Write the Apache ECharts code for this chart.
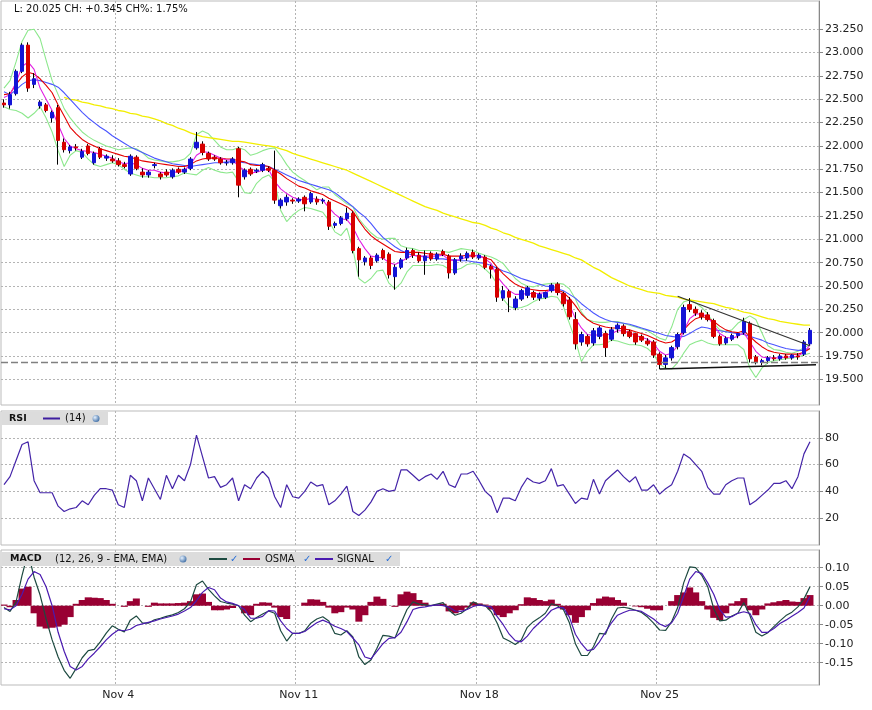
<!DOCTYPE html>
<html><head><meta charset="utf-8">
<script src="https://cdn.jsdelivr.net/npm/echarts@6/dist/echarts.min.js"></script>
<style>html,body{margin:0;padding:0;background:#fff}#c{width:872px;height:710px}</style>
</head><body><div id="c"></div>
<script>
// ---- price candles (open / high / low / close) ----
const opens = [22.46,22.44,22.56,22.80,23.08,22.66,22.43,22.44,22.30,22.41,
22.04,21.95,21.99,21.88,22.00,21.82,21.97,21.87,21.86,21.84,
21.80,21.70,21.88,21.72,21.69,21.79,21.70,21.72,21.67,21.75,
21.72,21.76,21.98,22.02,21.92,21.88,21.86,21.82,21.82,21.97,
21.67,21.75,21.73,21.74,21.76,21.74,21.36,21.40,21.42,21.41,
21.45,21.40,21.43,21.41,21.40,21.15,21.17,21.22,21.28,20.90,
20.76,20.80,20.77,20.88,20.84,20.60,20.70,20.80,20.88,20.83,
20.77,20.85,20.79,20.87,20.82,20.64,20.79,20.80,20.86,20.80,
20.81,20.71,20.68,20.37,20.44,20.27,20.36,20.40,20.43,20.37,
20.38,20.45,20.52,20.42,20.35,20.14,19.90,19.96,19.89,19.96,
19.99,19.93,20.04,20.07,20.01,19.99,19.96,19.91,19.90,19.77,
19.66,19.73,19.85,20.00,20.30,20.25,20.21,20.19,20.13,19.96,
19.89,19.93,19.97,20.00,20.10,19.74,19.68,19.70,19.73,19.72,
19.75,19.73,19.75,19.77,19.88];
const highs = [22.50,22.58,22.82,23.10,23.11,22.78,22.49,22.46,22.38,22.44,
22.08,22.01,22.02,21.97,22.02,21.94,21.99,21.91,21.90,21.87,
21.83,21.91,21.90,21.76,21.74,21.82,21.72,21.75,21.76,21.77,
21.77,21.88,22.15,22.05,21.94,21.90,21.88,21.85,21.88,21.99,
21.76,21.77,21.76,21.82,21.78,21.95,21.44,21.48,21.44,21.45,
21.47,21.51,21.46,21.44,21.42,21.19,21.25,21.34,21.30,20.92,
20.82,20.82,20.85,20.90,20.86,20.73,20.80,20.91,20.90,20.86,
20.88,20.87,20.86,20.89,20.84,20.80,20.85,20.87,20.89,20.85,
20.83,20.73,20.70,20.50,20.46,20.39,20.47,20.50,20.45,20.43,
20.44,20.53,20.54,20.44,20.38,20.22,20.01,19.98,20.05,20.07,
20.02,20.06,20.10,20.09,20.03,20.00,19.98,19.94,19.92,19.79,
19.76,19.86,20.00,20.30,20.37,20.28,20.24,20.22,20.15,19.98,
19.96,19.99,20.00,20.16,20.12,19.76,19.72,19.75,19.76,19.77,
19.77,19.77,19.78,19.92,20.05];
const lows = [22.41,22.40,22.54,22.78,22.58,22.62,22.40,22.36,22.25,21.80,
21.93,21.92,21.95,21.86,21.90,21.80,21.86,21.84,21.82,21.78,
21.76,21.68,21.74,21.66,21.66,21.76,21.64,21.67,21.65,21.70,
21.70,21.74,21.96,21.90,21.84,21.84,21.80,21.79,21.80,21.45,
21.64,21.68,21.71,21.72,21.72,21.38,21.33,21.36,21.38,21.39,
21.30,21.38,21.37,21.38,21.10,21.12,21.15,21.20,20.85,20.60,
20.72,20.68,20.75,20.78,20.58,20.46,20.68,20.78,20.80,20.75,
20.62,20.77,20.77,20.82,20.58,20.62,20.76,20.77,20.79,20.78,
20.68,20.58,20.33,20.34,20.22,20.24,20.34,20.37,20.35,20.34,
20.36,20.43,20.40,20.28,20.14,19.82,19.86,19.85,19.86,19.93,
19.74,19.91,20.00,19.96,19.94,19.87,19.90,19.86,19.73,19.61,
19.62,19.70,19.82,19.98,20.22,20.18,20.14,20.12,19.94,19.86,
19.87,19.91,19.94,19.98,19.68,19.66,19.65,19.67,19.70,19.70,
19.71,19.71,19.71,19.75,19.86];
const closes = [22.44,22.55,22.80,23.08,22.62,22.72,22.47,22.38,22.36,22.06,
21.96,21.99,21.98,21.94,21.92,21.92,21.88,21.89,21.84,21.80,
21.78,21.89,21.76,21.69,21.72,21.80,21.67,21.69,21.74,21.72,
21.75,21.86,22.04,21.93,21.86,21.86,21.82,21.82,21.86,21.58,
21.74,21.70,21.74,21.80,21.74,21.42,21.42,21.45,21.41,21.43,
21.38,21.49,21.40,21.42,21.14,21.17,21.23,21.28,20.88,20.78,
20.80,20.72,20.83,20.80,20.62,20.70,20.78,20.88,20.83,20.77,
20.82,20.79,20.84,20.84,20.64,20.78,20.82,20.85,20.81,20.83,
20.70,20.68,20.38,20.45,20.38,20.36,20.45,20.48,20.38,20.41,
20.43,20.51,20.43,20.31,20.17,19.88,19.98,19.88,20.02,20.05,
19.84,20.03,20.08,19.99,19.96,19.90,19.92,19.88,19.76,19.66,
19.73,19.84,19.98,20.27,20.25,20.21,20.17,20.14,19.96,19.88,
19.94,19.97,19.99,20.12,19.72,19.68,19.70,19.73,19.72,19.75,
19.73,19.76,19.74,19.90,20.025];
const prevClose = 19.68;

// ---- overlay lines on the price panel ----
const bandUpper = [22.62,22.70,22.90,23.12,23.24,23.25,23.15,22.92,22.70,22.55,
22.40,22.30,22.22,22.15,22.10,22.06,22.03,22.00,21.98,21.96,
21.97,21.98,21.97,21.93,21.87,21.85,21.84,21.83,21.83,21.84,
21.86,21.92,22.12,22.16,22.13,22.06,21.99,21.96,21.96,21.98,
21.96,21.90,21.92,21.95,21.97,21.98,21.90,21.80,21.72,21.67,
21.63,21.58,21.53,21.56,21.56,21.48,21.43,21.38,21.35,21.22,
21.14,21.07,21.02,21.00,21.01,21.01,20.93,20.91,20.90,20.88,
20.88,20.88,20.88,20.87,20.86,20.88,20.90,20.89,20.88,20.85,
20.83,20.81,20.78,20.74,20.66,20.58,20.53,20.50,20.49,20.51,
20.52,20.53,20.53,20.52,20.47,20.36,20.22,20.14,20.12,20.11,
20.11,20.12,20.12,20.10,20.08,20.06,20.04,20.02,19.98,19.94,
19.92,20.06,20.25,20.33,20.35,20.32,20.27,20.20,20.10,20.03,
20.01,20.03,20.10,20.14,20.18,20.14,20.00,19.86,19.82,19.81,
19.79,19.78,19.80,19.84,19.87];
const bandLower = [22.42,22.39,22.38,22.35,22.30,22.35,22.42,22.30,22.15,21.95,
21.78,21.90,21.95,21.93,21.86,21.80,21.78,21.80,21.82,21.80,
21.75,21.71,21.69,21.67,21.67,21.66,21.66,21.66,21.67,21.68,
21.71,21.70,21.69,21.74,21.77,21.74,21.72,21.71,21.72,21.62,
21.50,21.49,21.60,21.66,21.69,21.62,21.31,21.19,21.26,21.31,
21.34,21.33,21.31,21.29,21.20,21.08,21.04,21.12,20.90,20.58,
20.53,20.58,20.66,20.67,20.53,20.47,20.53,20.65,20.72,20.72,
20.72,20.72,20.73,20.72,20.68,20.67,20.69,20.73,20.74,20.73,
20.68,20.62,20.52,20.36,20.28,20.26,20.27,20.29,20.33,20.36,
20.37,20.39,20.38,20.28,20.10,19.92,19.69,19.80,19.87,19.87,
19.88,19.92,19.91,19.89,19.87,19.87,19.86,19.83,19.77,19.66,
19.62,19.61,19.68,19.78,19.87,19.90,19.92,19.89,19.87,19.87,
19.87,19.87,19.87,19.82,19.62,19.52,19.62,19.68,19.70,19.71,
19.72,19.73,19.74,19.76,19.78];
const maFast = [22.52,22.55,22.68,22.85,22.90,22.82,22.62,22.50,22.38,22.23,
22.08,22.00,21.97,21.95,21.94,21.93,21.91,21.89,21.87,21.83,
21.81,21.82,21.80,21.76,21.74,21.74,21.72,21.71,21.72,21.72,
21.74,21.80,21.90,21.94,21.93,21.90,21.87,21.85,21.85,21.78,
21.74,21.71,21.72,21.74,21.75,21.62,21.54,21.49,21.45,21.43,
21.42,21.44,21.43,21.42,21.34,21.27,21.22,21.21,21.13,21.00,
20.90,20.82,20.81,20.80,20.75,20.73,20.76,20.80,20.83,20.82,
20.82,20.82,20.82,20.83,20.78,20.77,20.79,20.81,20.82,20.83,
20.79,20.74,20.60,20.52,20.45,20.41,20.41,20.42,20.42,20.42,
20.43,20.46,20.45,20.40,20.30,20.15,20.05,19.98,19.97,19.98,
19.97,19.99,20.02,20.02,20.00,19.97,19.95,19.93,19.88,19.80,
19.76,19.78,19.86,20.02,20.15,20.20,20.20,20.17,20.08,19.99,
19.95,19.94,19.96,20.00,19.90,19.80,19.74,19.73,19.73,19.73,
19.74,19.74,19.75,19.79,19.87];
const maMid = [22.55,22.56,22.66,22.74,22.79,22.77,22.72,22.65,22.57,22.44,
22.32,22.20,22.13,22.07,22.03,22.00,21.97,21.95,21.93,21.91,
21.89,21.88,21.86,21.84,21.83,21.82,21.81,21.80,21.79,21.78,
21.78,21.80,21.84,21.86,21.87,21.87,21.87,21.86,21.86,21.84,
21.83,21.80,21.79,21.79,21.78,21.74,21.70,21.65,21.61,21.57,
21.55,21.52,21.50,21.48,21.44,21.41,21.38,21.35,21.30,21.20,
21.11,21.04,20.99,20.95,20.91,20.87,20.86,20.86,20.86,20.86,
20.85,20.84,20.84,20.84,20.82,20.82,20.82,20.83,20.83,20.82,
20.80,20.78,20.70,20.63,20.57,20.52,20.49,20.47,20.46,20.45,
20.45,20.46,20.46,20.43,20.37,20.29,20.20,20.14,20.10,20.08,
20.06,20.05,20.05,20.04,20.03,20.01,19.99,19.97,19.94,19.91,
19.89,19.90,19.94,20.03,20.10,20.15,20.17,20.16,20.12,20.07,
20.03,20.01,20.00,20.02,19.96,19.90,19.85,19.81,19.79,19.78,
19.77,19.77,19.77,19.79,19.83];
const maSlow = [22.58,22.55,22.60,22.66,22.70,22.71,22.70,22.68,22.66,22.63,
22.57,22.50,22.43,22.36,22.30,22.25,22.20,22.16,22.11,22.07,
22.03,21.99,21.96,21.93,21.90,21.87,21.85,21.83,21.81,21.80,
21.79,21.78,21.79,21.80,21.81,21.82,21.82,21.83,21.83,21.83,
21.82,21.81,21.80,21.79,21.78,21.75,21.72,21.69,21.66,21.63,
21.61,21.59,21.57,21.55,21.53,21.50,21.45,21.40,21.35,21.29,
21.24,21.17,21.09,21.02,20.97,20.92,20.88,20.85,20.83,20.82,
20.81,20.80,20.79,20.79,20.78,20.78,20.77,20.77,20.76,20.75,
20.74,20.72,20.69,20.66,20.64,20.61,20.58,20.56,20.54,20.52,
20.50,20.49,20.47,20.45,20.41,20.37,20.31,20.26,20.21,20.17,
20.14,20.12,20.11,20.10,20.09,20.07,20.05,20.03,20.01,19.99,
19.97,19.96,19.95,19.96,19.99,20.03,20.06,20.05,20.03,20.02,
20.01,20.00,19.99,19.98,19.96,19.94,19.92,19.89,19.87,19.85,
19.83,19.82,19.81,19.81,19.83];
const maLong = [null,null,null,null,null,null,null,null,null,null,
22.52,22.50,22.49,22.47,22.46,22.44,22.43,22.41,22.40,22.38,
22.37,22.35,22.34,22.32,22.31,22.29,22.27,22.24,22.22,22.19,
22.17,22.14,22.12,22.10,22.09,22.08,22.07,22.06,22.05,22.05,
22.04,22.03,22.02,22.01,22.00,21.99,21.97,21.95,21.92,21.90,
21.88,21.86,21.84,21.82,21.80,21.78,21.76,21.74,21.71,21.68,
21.65,21.62,21.59,21.56,21.53,21.50,21.47,21.44,21.41,21.38,
21.35,21.33,21.31,21.28,21.26,21.24,21.22,21.20,21.18,21.17,
21.15,21.12,21.10,21.07,21.05,21.02,21.00,20.98,20.96,20.93,
20.91,20.89,20.87,20.85,20.83,20.80,20.78,20.74,20.70,20.67,
20.63,20.59,20.56,20.53,20.50,20.48,20.46,20.44,20.43,20.42,
20.40,20.39,20.38,20.36,20.35,20.34,20.33,20.32,20.31,20.29,
20.27,20.26,20.24,20.22,20.21,20.19,20.17,20.15,20.14,20.12,
20.11,20.10,20.09,20.08,20.08];
// trend lines: [startBar, startPrice, endBar, endPrice]
const trendLines = [[112, 20.39, 134, 19.86], [109, 19.61, 135, 19.655]];

// ---- RSI (14) ----
const rsi = [45,51,63,75,77,48,39,39,39,29,
25,27,28,33,30,37,42,42,41,30,
28,52,48,33,50,42,34,52,42,52,
48,60,82,66,50,51,43,45,50,33,
45,42,50,55,50,36,28,45,36,35,
40,47,44,45,30,33,38,44,25,22,
26,32,40,42,40,41,56,56,52,48,
51,53,49,55,45,43,53,53,55,48,
40,36,24,35,35,33,43,50,47,46,
48,57,44,45,38,31,35,34,49,38,
48,52,56,51,47,51,41,41,45,38,
42,45,55,68,65,60,55,43,38,38,
45,48,50,50,30,33,37,41,46,46,
48,42,51,68,77];

// ---- MACD (12, 26, 9) ----
const macd = [-0.005,-0.015,0.010,0.080,0.140,0.075,0.028,-0.035,-0.090,-0.135,
-0.170,-0.191,-0.165,-0.137,-0.118,-0.115,-0.095,-0.072,-0.053,-0.062,
-0.069,-0.038,-0.027,-0.045,-0.046,-0.037,-0.033,-0.028,-0.024,-0.018,
-0.008,0.010,0.055,0.065,0.043,0.026,0.011,0.007,0.004,0.000,
-0.025,-0.042,-0.031,-0.022,-0.014,-0.020,-0.066,-0.093,-0.073,-0.073,
-0.066,-0.046,-0.035,-0.029,-0.040,-0.073,-0.077,-0.066,-0.082,-0.135,
-0.155,-0.143,-0.112,-0.078,-0.080,-0.085,-0.046,-0.010,0.010,0.004,
0.002,0.000,0.004,0.008,-0.012,-0.025,-0.020,-0.008,0.010,0.002,
0.000,-0.016,-0.046,-0.085,-0.093,-0.102,-0.090,-0.057,-0.042,-0.032,
-0.020,0.005,0.000,-0.010,-0.045,-0.100,-0.131,-0.131,-0.108,-0.073,
-0.075,-0.035,-0.006,-0.004,-0.007,-0.012,-0.018,-0.030,-0.046,-0.064,
-0.065,-0.042,-0.005,0.060,0.102,0.100,0.080,0.050,-0.008,-0.040,
-0.038,-0.027,-0.020,0.008,-0.025,-0.070,-0.080,-0.071,-0.055,-0.040,
-0.026,-0.017,-0.003,0.018,0.050];
const signal = [-0.008,-0.011,0.000,0.030,0.070,0.090,0.082,0.050,0.000,-0.070,
-0.120,-0.160,-0.169,-0.160,-0.140,-0.125,-0.108,-0.090,-0.075,-0.064,
-0.066,-0.062,-0.052,-0.048,-0.044,-0.040,-0.035,-0.031,-0.027,-0.022,
-0.014,-0.005,0.013,0.035,0.048,0.042,0.020,0.010,0.006,0.000,
-0.010,-0.033,-0.033,-0.028,-0.013,-0.014,-0.040,-0.060,-0.073,-0.073,
-0.068,-0.056,-0.045,-0.038,-0.045,-0.054,-0.060,-0.068,-0.085,-0.103,
-0.135,-0.140,-0.120,-0.100,-0.086,-0.084,-0.070,-0.042,-0.010,-0.005,
-0.003,0.000,0.002,0.000,-0.004,-0.014,-0.015,-0.010,-0.002,0.002,
-0.001,-0.003,-0.029,-0.050,-0.075,-0.092,-0.095,-0.080,-0.060,-0.045,
-0.030,-0.012,-0.005,-0.005,-0.030,-0.075,-0.100,-0.118,-0.115,-0.095,
-0.070,-0.045,-0.025,-0.018,-0.012,-0.012,-0.015,-0.025,-0.035,-0.048,
-0.055,-0.045,-0.020,0.025,0.070,0.090,0.085,0.060,0.030,-0.010,
-0.030,-0.029,-0.020,-0.016,-0.020,-0.050,-0.070,-0.070,-0.060,-0.047,
-0.038,-0.028,-0.018,-0.006,0.024];
const osma = [0.003,-0.004,0.015,0.045,0.050,-0.020,-0.055,-0.060,-0.058,-0.055,
-0.050,-0.030,0.005,0.015,0.022,0.021,0.020,0.015,0.005,0.000,
-0.003,0.012,0.019,0.000,-0.003,0.008,0.006,0.006,0.006,0.007,
0.008,0.012,0.030,0.032,0.010,-0.012,-0.012,-0.010,-0.006,0.000,
-0.020,-0.025,0.005,0.009,0.008,-0.005,-0.030,-0.035,0.000,0.000,
0.008,0.017,0.016,0.010,-0.005,-0.020,-0.017,-0.005,-0.010,-0.042,
-0.025,0.010,0.024,0.018,0.000,-0.003,0.030,0.037,0.033,0.015,
0.008,0.002,0.003,0.005,-0.015,-0.020,-0.012,-0.005,0.009,0.006,
0.003,-0.010,-0.025,-0.030,-0.020,-0.012,0.004,0.022,0.020,0.015,
0.012,0.016,0.005,-0.010,-0.025,-0.045,-0.030,-0.012,0.007,0.019,
0.024,0.022,0.015,0.008,0.000,-0.002,-0.004,-0.008,-0.012,-0.012,
0.000,0.012,0.028,0.035,0.048,0.035,0.012,-0.010,-0.032,-0.038,
-0.020,0.006,0.012,0.020,-0.012,-0.025,-0.010,0.006,0.009,0.012,
0.015,0.011,0.010,0.020,0.028];

// ---- axis ticks / labels ----
const priceTicks = [19.5,19.75,20,20.25,20.5,20.75,21,21.25,21.5,21.75,22,22.25,22.5,22.75,23,23.25];
const rsiTicks = [20,40,60,80];
const macdTicks = [-0.15,-0.1,-0.05,0,0.05,0.1];
const weekLabels = ['Nov 4','Nov 11','Nov 18','Nov 25'];

// category names: 4-hour bars, weekdays only
const MONTHS = ['Jan','Feb','Mar','Apr','May','Jun','Jul','Aug','Sep','Oct','Nov','Dec'];
const categories = [];
let t = Date.UTC(2019, 9, 29, 20);
while (categories.length < 136) {
  const d = new Date(t);
  const wd = d.getUTCDay();
  if (wd !== 0 && wd !== 6) {
    const h = d.getUTCHours();
    const base = MONTHS[d.getUTCMonth()] + ' ' + d.getUTCDate();
    categories.push(h === 0 ? base : base + ' ' + String(h).padStart(2, '0') + ':00');
  }
  t += 4 * 3600 * 1000;
}

const wickData = opens.map((o, i) => [o, closes[i], lows[i], highs[i]]);
const bodyData = opens.map((o, i) => [o, closes[i], Math.min(o, closes[i]), Math.max(o, closes[i])]);

const last = closes[closes.length - 1];
const chg = last - prevClose;
const headText = 'L: ' + last.toFixed(3) + ' CH: ' + (chg >= 0 ? '+' : '') + chg.toFixed(3) +
  ' CH%: ' + (chg / prevClose * 100).toFixed(2) + '%';

const FONT = 'DejaVu Sans';
const gridLine = { show: true, lineStyle: { color: '#b4b4b4', type: [2, 2], width: 1 } };
const isWeek = (idx, val) => weekLabels.indexOf(val) >= 0;

function xAxisFor(g, showLabel) {
  return {
    gridIndex: g, type: 'category', data: categories, boundaryGap: true,
    axisLine: { show: false }, axisTick: { show: false },
    axisLabel: { show: showLabel, interval: isWeek, color: '#222', fontSize: 11, fontFamily: FONT, margin: 5,
      formatter: v => v },
    splitLine: { show: true, interval: isWeek, lineStyle: { color: '#b4b4b4', type: [2, 2] } }
  };
}
function yAxisFor(g, min, max, ticks, fmt) {
  return {
    gridIndex: g, type: 'value', position: 'right', min: min, max: max, scale: true,
    axisLine: { show: true, lineStyle: { color: '#888' } },
    axisTick: { show: true, length: 4, lineStyle: { color: '#888' }, customValues: ticks },
    axisLabel: { customValues: ticks, formatter: fmt, color: '#222', fontSize: 11, fontFamily: FONT, margin: 6 },
    splitLine: gridLine
  };
}
function lineSeries(name, data, color, width, xi, yi) {
  return { name: name, type: 'line', data: data, xAxisIndex: xi || 0, yAxisIndex: yi || 0,
    showSymbol: false, symbol: 'none', silent: true, lineStyle: { color: color, width: width || 1 }, z: 2 };
}

const chart = echarts.init(document.getElementById('c'), null, { renderer: 'canvas' });

const trendData = trendLines.map(l => [{ coord: [l[0], l[1]] }, { coord: [l[2], l[3]] }]);

chart.setOption({
  animation: false,
  backgroundColor: '#fff',
  textStyle: { fontFamily: FONT },
  grid: [
    { left: 1, top: 1, width: 818, height: 404, show: true, borderColor: '#bbb', borderWidth: 1, backgroundColor: '#fff' },
    { left: 1, top: 411, width: 818, height: 134, show: true, borderColor: '#bbb', borderWidth: 1, backgroundColor: '#fff' },
    { left: 1, top: 550, width: 818, height: 135, show: true, borderColor: '#bbb', borderWidth: 1, backgroundColor: '#fff' }
  ],
  xAxis: [xAxisFor(0, false), xAxisFor(1, false), xAxisFor(2, true)],
  yAxis: [
    yAxisFor(0, 19.225, 23.553, priceTicks, v => v.toFixed(3)),
    yAxisFor(1, 0, 100, rsiTicks, v => String(Math.round(v))),
    yAxisFor(2, -0.2087, 0.1466, macdTicks, v => (Math.abs(v) < 1e-9 ? 0 : v).toFixed(2))
  ],
  series: [
    lineSeries('BB upper', bandUpper, '#8de88d', 1.1),
    lineSeries('BB lower', bandLower, '#8de88d', 1.1),
    Object.assign(lineSeries('MA long', maLong, '#f2ee00', 1.3), {
      markLine: {
        silent: true, symbol: 'none', label: { show: false }, animation: false,
        data: [
          { yAxis: prevClose, lineStyle: { color: '#808080', type: [7, 3], width: 1.3 } },
          [Object.assign({ lineStyle: { color: '#333', width: 1.2, type: 'solid' } }, trendData[0][0]), trendData[0][1]],
          [Object.assign({ lineStyle: { color: '#111', width: 1.5, type: 'solid' } }, trendData[1][0]), trendData[1][1]]
        ]
      }
    }),
    lineSeries('MA slow', maSlow, '#4a55ff', 1.1),
    lineSeries('MA mid', maMid, '#e40000', 1.1),
    lineSeries('MA fast', maFast, '#e21fe2', 1.1),
    { name: 'wick', type: 'candlestick', data: wickData, xAxisIndex: 0, yAxisIndex: 0, barWidth: 1, silent: true, z: 3,
      itemStyle: { color: '#000', color0: '#000', borderColor: '#000', borderColor0: '#000', borderWidth: 1 } },
    { name: 'body', type: 'candlestick', data: bodyData, xAxisIndex: 0, yAxisIndex: 0, barWidth: 4, silent: true, z: 4,
      itemStyle: { color: '#1414d6', color0: '#d80000', borderColor: '#1414d6', borderColor0: '#d80000', borderWidth: 1 } },
    lineSeries('RSI', rsi, '#4424a8', 1.2, 1, 1),
    { name: 'OSMA', type: 'bar', data: osma, xAxisIndex: 2, yAxisIndex: 2, barWidth: 7, silent: true,
      itemStyle: { color: '#990033' }, z: 1 },
    lineSeries('MACD', macd, '#1d4a40', 1.2, 2, 2),
    lineSeries('SIGNAL', signal, '#4a1ab0', 1.2, 2, 2)
  ],
  graphic: [
    { type: 'text', x: 14, y: 9, z: 10, style: { text: headText, font: '10px "DejaVu Sans"', fill: '#111', verticalAlign: 'middle' } },
    // RSI legend box
    { type: 'rect', z: 10, shape: { x: 2, y: 412, width: 106, height: 13 }, style: { fill: '#dcdcdc' } },
    { type: 'text', z: 11, x: 9, y: 418.5, style: { text: 'RSI', font: 'bold 9.5px "DejaVu Sans"', fill: '#111', verticalAlign: 'middle' } },
    { type: 'line', z: 11, shape: { x1: 43, y1: 418.5, x2: 60, y2: 418.5 }, style: { stroke: '#3f1fa0', lineWidth: 2 } },
    { type: 'text', z: 11, x: 65, y: 418.5, style: { text: '(14)', font: '10px "DejaVu Sans"', fill: '#111', verticalAlign: 'middle' } },
    { type: 'circle', z: 11, shape: { cx: 96, cy: 418.5, r: 3.5 },
      style: { fill: new echarts.graphic.RadialGradient(0.35, 0.35, 0.8, [{ offset: 0, color: '#e6f2ff' }, { offset: 1, color: '#2a5d9a' }]) } },
    // MACD legend box
    { type: 'rect', z: 10, shape: { x: 2, y: 552, width: 398, height: 14 }, style: { fill: '#dcdcdc' } },
    { type: 'text', z: 11, x: 10, y: 559, style: { text: 'MACD', font: 'bold 9.5px "DejaVu Sans"', fill: '#111', verticalAlign: 'middle' } },
    { type: 'text', z: 11, x: 55, y: 559, style: { text: '(12, 26, 9 - EMA, EMA)', font: '10px "DejaVu Sans"', fill: '#111', verticalAlign: 'middle' } },
    { type: 'circle', z: 11, shape: { cx: 183, cy: 559, r: 3.5 },
      style: { fill: new echarts.graphic.RadialGradient(0.35, 0.35, 0.8, [{ offset: 0, color: '#e6f2ff' }, { offset: 1, color: '#2a5d9a' }]) } },
    { type: 'line', z: 11, shape: { x1: 209, y1: 559, x2: 227, y2: 559 }, style: { stroke: '#1d4a40', lineWidth: 2 } },
    { type: 'text', z: 11, x: 230, y: 559.5, style: { text: '✓', font: 'bold 10px "DejaVu Sans"', fill: '#2a6fd6', verticalAlign: 'middle' } },
    { type: 'line', z: 11, shape: { x1: 243, y1: 559, x2: 260, y2: 559 }, style: { stroke: '#990033', lineWidth: 2 } },
    { type: 'text', z: 11, x: 265, y: 559, style: { text: 'OSMA', font: '10px "DejaVu Sans"', fill: '#111', verticalAlign: 'middle' } },
    { type: 'text', z: 11, x: 303, y: 559.5, style: { text: '✓', font: 'bold 10px "DejaVu Sans"', fill: '#2a6fd6', verticalAlign: 'middle' } },
    { type: 'line', z: 11, shape: { x1: 315, y1: 559, x2: 333, y2: 559 }, style: { stroke: '#4a1ab0', lineWidth: 2 } },
    { type: 'text', z: 11, x: 337, y: 559, style: { text: 'SIGNAL', font: '10px "DejaVu Sans"', fill: '#111', verticalAlign: 'middle' } },
    { type: 'text', z: 11, x: 385, y: 559.5, style: { text: '✓', font: 'bold 10px "DejaVu Sans"', fill: '#2a6fd6', verticalAlign: 'middle' } }
  ]
});
</script>
</body></html>
